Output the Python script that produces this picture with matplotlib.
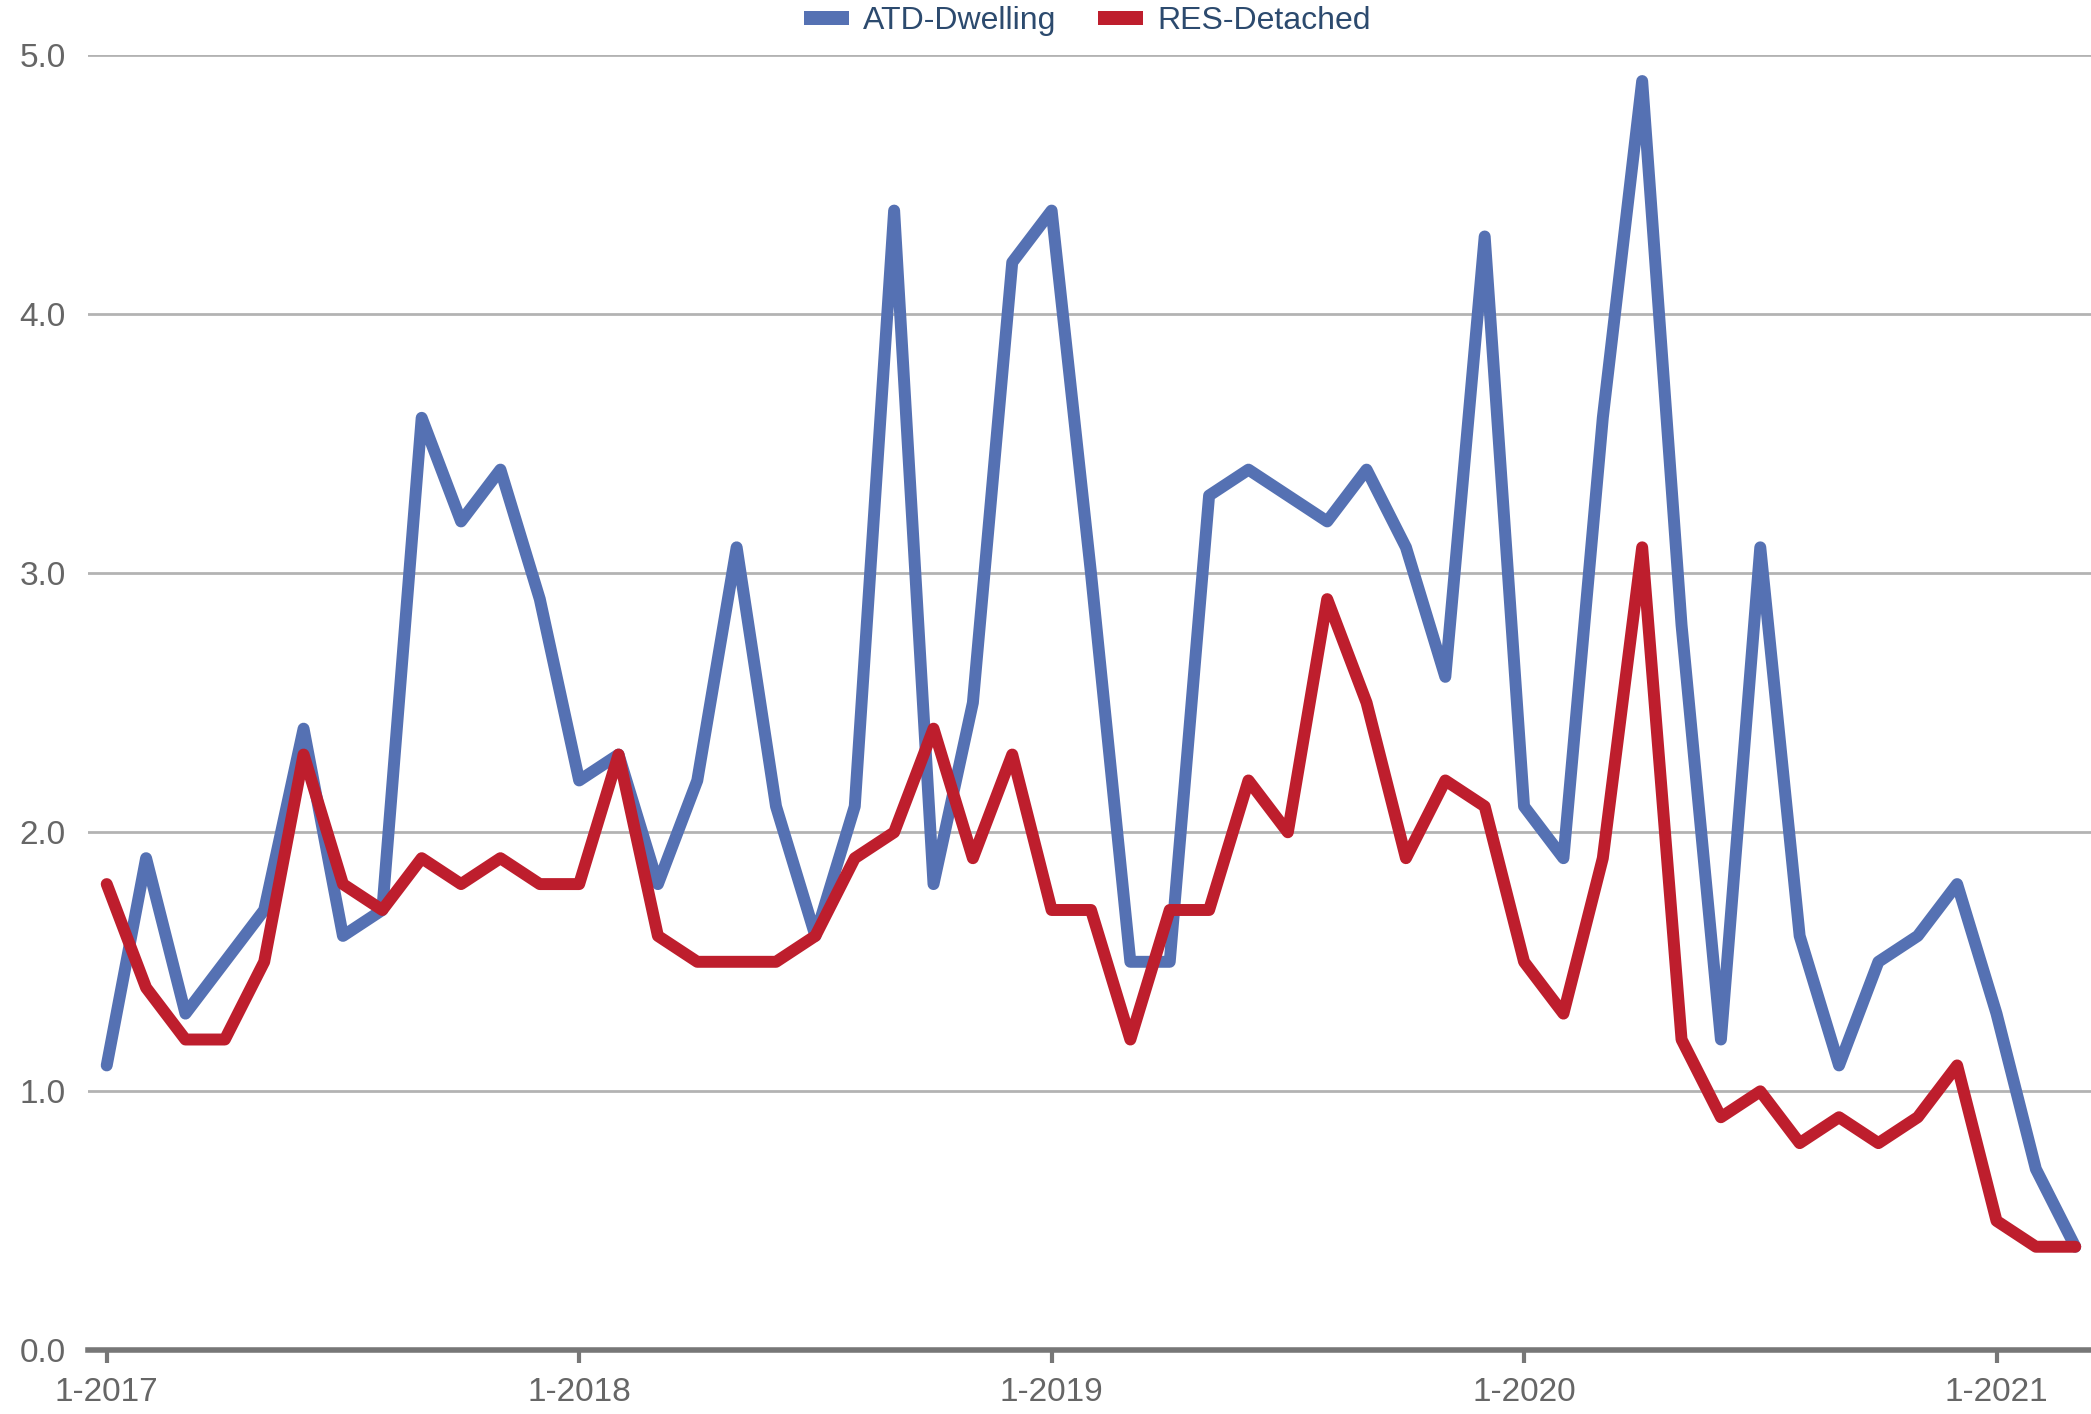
import numpy as np
import matplotlib
matplotlib.use("Agg")
import matplotlib.pyplot as plt
from matplotlib.patches import Patch

# === Data (monthly, 1-2017 .. 3-2021) ===
atd_dwelling = [1.1, 1.9, 1.3, 1.5, 1.7, 2.4, 1.6, 1.7, 3.6, 3.2, 3.4, 2.9,
                2.2, 2.3, 1.8, 2.2, 3.1, 2.1, 1.6, 2.1, 4.4, 1.8, 2.5, 4.2,
                4.4, 3.0, 1.5, 1.5, 3.3, 3.4, 3.3, 3.2, 3.4, 3.1, 2.6, 4.3,
                2.1, 1.9, 3.6, 4.9, 2.8, 1.2, 3.1, 1.6, 1.1, 1.5, 1.6, 1.8,
                1.3, 0.7, 0.4]
res_detached = [1.8, 1.4, 1.2, 1.2, 1.5, 2.3, 1.8, 1.7, 1.9, 1.8, 1.9, 1.8,
                1.8, 2.3, 1.6, 1.5, 1.5, 1.5, 1.6, 1.9, 2.0, 2.4, 1.9, 2.3,
                1.7, 1.7, 1.2, 1.7, 1.7, 2.2, 2.0, 2.9, 2.5, 1.9, 2.2, 2.1,
                1.5, 1.3, 1.9, 3.1, 1.2, 0.9, 1.0, 0.8, 0.9, 0.8, 0.9, 1.1,
                0.5, 0.4, 0.4]
tick_months = [0, 12, 24, 36, 48]
tick_labels = ["1-2017", "1-2018", "1-2019", "1-2020", "1-2021"]
y_ticks = [0.0, 1.0, 2.0, 3.0, 4.0, 5.0]

blue = "#5571b3"
red = "#be1e2d"
font = ["Liberation Sans Narrow", "Liberation Sans", "DejaVu Sans"]
plt.rcParams['font.family'] = font

fig = plt.figure(figsize=(20.91, 14.14), dpi=100)
ax = fig.add_axes([0.042, 0.045, 0.958, 0.916])

x = np.arange(len(atd_dwelling))
ax.plot(x, atd_dwelling, color=blue, linewidth=8.6, solid_joinstyle='round',
        solid_capstyle='round', zorder=3)
ax.plot(x, res_detached, color=red, linewidth=8.6, solid_joinstyle='round',
        solid_capstyle='round', zorder=4)

ax.set_xlim(-0.48, 50.4)
ax.set_ylim(0, 5.0)
ax.set_yticks(y_ticks)
ax.set_yticklabels([f"{v:.1f}" for v in y_ticks])
ax.set_xticks(tick_months)
ax.set_xticklabels(tick_labels)

ax.grid(axis='y', color='#b3b3b3', linewidth=2)
ax.set_axisbelow(True)
for s in ['top', 'right', 'left']:
    ax.spines[s].set_visible(False)
ax.spines['bottom'].set_color('#777777')
ax.spines['bottom'].set_linewidth(4)
ax.spines['bottom'].set_zorder(5)

ax.tick_params(axis='y', length=0, pad=16, labelsize=24, labelcolor='#666666')
ax.tick_params(axis='x', length=9, width=3, color='#777777', pad=10,
               labelsize=24, labelcolor='#666666')

handles = [Patch(facecolor=blue, label="ATD-Dwelling"),
           Patch(facecolor=red, label="RES-Detached")]
leg = fig.legend(handles=handles, loc='center', bbox_to_anchor=(0.52, 0.985),
                 ncol=2, frameon=False, fontsize=23, handlelength=1.4,
                 handleheight=0.3, handletextpad=0.45, columnspacing=1.3)
for t in leg.get_texts():
    t.set_color('#2c4a6e')

fig.savefig("out.png", dpi=100)
